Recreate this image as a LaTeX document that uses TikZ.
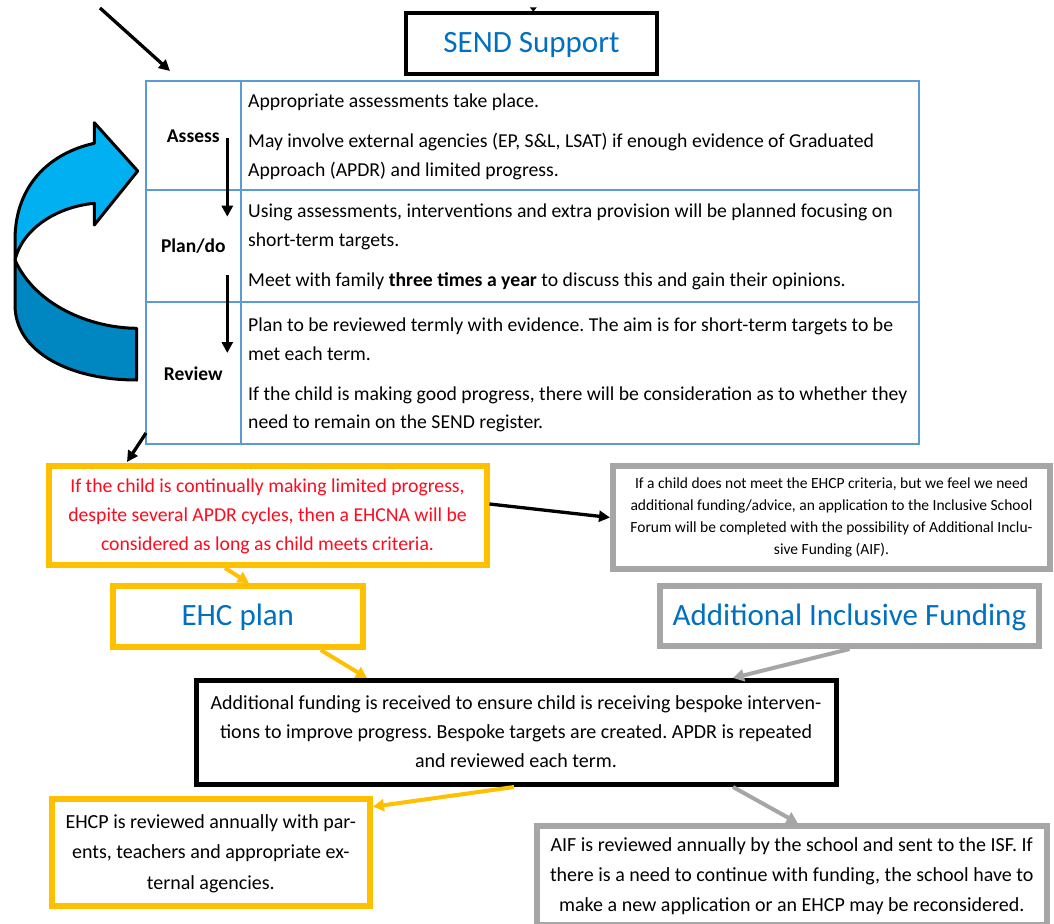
\documentclass[tikz,border=0pt]{standalone}
\usepackage{fontspec}
\setmainfont{Carlito}
\usetikzlibrary{arrows.meta,calc}
\definecolor{headblue}{RGB}{0,112,192}
\definecolor{tblblue}{RGB}{91,155,213}
\definecolor{ylw}{RGB}{255,192,0}
\definecolor{gry}{RGB}{166,166,166}
\definecolor{lightblue}{RGB}{0,176,240}
\definecolor{darkblue}{RGB}{0,134,192}
\definecolor{redtext}{RGB}{255,10,30}
\frenchspacing
\begin{document}
\begin{tikzpicture}[x=1pt,y=-1pt,
  box/.style={draw, inner sep=0pt, align=center, fill=white},
  ybox/.style={box, draw=ylw, line width=6pt},
  gbox/.style={box, draw=gry, line width=6pt},
  kbox/.style={box, draw=black, line width=5pt},
  body/.style={font=\fontsize{20pt}{29pt}\selectfont},
  small/.style={font=\fontsize{15.5pt}{22pt}\selectfont},
  head/.style={font=\fontsize{31pt}{37pt}\selectfont, text=headblue, text height=20pt, text depth=2pt},
  lab/.style={font=\fontsize{19.5pt}{24pt}\selectfont\bfseries, anchor=base, inner sep=0pt},
  cell/.style={font=\fontsize{19.7pt}{28.7pt}\selectfont, align=left, inner sep=0pt, anchor=north west},
  karr/.style={-{Triangle[length=11pt,width=11pt]}, line width=3.3pt, draw=black},
  yarr/.style={-{Triangle[length=11pt,width=12pt]}, line width=4pt, draw=ylw},
  garr/.style={-{Triangle[length=11pt,width=12pt]}, line width=4pt, draw=gry},
  tline/.style={draw=tblblue, line width=2pt},
  curv/.style={draw=black, line width=3pt, line join=round},
]
\fill[white] (0,0) rectangle (1054,923);
\useasboundingbox (0,0) rectangle (1054,923);

% curved blue arrow
\filldraw[curv, fill=lightblue] (15,260) -- (15,240) .. controls (15,185) and (50,153) .. (94.3,143.3)
  -- (94.3,122.7) -- (137.7,171) -- (94.3,225) -- (94.3,203.3)
  .. controls (55,207) and (22,230) .. (15,260) -- cycle;
\filldraw[curv, fill=darkblue] (15,260) -- (15,305) .. controls (15,352) and (70,380) .. (136.7,380)
  -- (136.7,328.3) .. controls (90,328) and (35,305) .. (15,260) -- cycle;

% heading
\node[kbox, line width=4pt, head, minimum width=251pt, minimum height=61.3pt] (send) at (531.5,43.3) {SEND Support};
\fill (529.8,7.3) -- (536.8,7.3) -- (533.3,11.7) -- cycle;

% table
\node[draw=tblblue, line width=2pt, inner sep=0pt, minimum width=773pt, minimum height=363pt] (tbl) at (532.5,262.5) {};
\draw[tline] (241,81) -- (241,444);
\draw[tline] (146,190) -- (919,190);
\draw[tline] (146,302) -- (919,302);

\node[lab] (assess) at (193.3,142.5) {Assess};
\node[lab] (plando) at (193.3,252.5) {Plan/do};
\node[lab] (review) at (193.3,380.5) {Review};

\node[cell] (c1) at (248,87.1) {\strut Appropriate assessments take place.\\[11.5pt]
May involve external agencies (EP, S\&L, LSAT) if enough evidence of Graduated\\
Approach (APDR) and limited progress.};
\node[cell] (c2) at (248,197.1) {\strut Using assessments, interventions and extra provision will be planned focusing on\\
short-term targets.\\[11.5pt]
Meet with family \textbf{three times a year} to discuss this and gain their opinions.};
\node[cell] (c3) at (248,311.1) {\strut Plan to be reviewed termly with evidence. The aim is for short-term targets to be\\
met each term.\\[11.5pt]
If the child is making good progress, there will be consideration as to whether they\\
need to remain on the SEND register.};

\draw[karr] (227.3,138) -- (227.3,216.7);
\draw[karr] (227.3,275) -- (227.3,353);

\coordinate (tlstart) at (100,8);
\coordinate (tlend) at (170,71);
\draw[karr] (tlstart) -- (tlend);
\coordinate (blend) at (127,462);
\draw[karr] ($(tbl.south west)+(1,-12)$) -- (blend);

% boxes
\node[ybox, font=\fontsize{19.7pt}{29pt}\selectfont, text=redtext, minimum width=438pt, minimum height=99pt] (red) at (267.5,515.5)
 {\strut If the child is continually making limited progress,\\
  despite several APDR cycles, then a EHCNA will be\\
  \strut considered as long as child meets criteria.};
\node[gbox, small, minimum width=437pt, minimum height=103pt] (gray1) at (831.5,517.5)
 {\strut If a child does not meet the EHCP criteria, but we feel we need\\
  additional funding/advice, an application to the Inclusive School\\
  Forum will be completed with the possibility of Additional Inclu-\\
  \strut sive Funding (AIF).};
\node[ybox, head, minimum width=249.6pt, minimum height=61pt] (ehc) at (237.8,616.5) {EHC plan};
\node[gbox, head, minimum width=379pt, minimum height=60pt] (aif) at (849.5,616) {Additional Inclusive Funding};
\node[kbox, body, minimum width=640pt, minimum height=104pt] (fund) at (516,732.5)
 {\strut Additional funding is received to ensure child is receiving bespoke interven-\\
  tions to improve progress. Bespoke targets are created. APDR is repeated\\
  \strut and reviewed each term.};
\node[ybox, font=\fontsize{20pt}{30.5pt}\selectfont, minimum width=318.5pt, minimum height=107pt] (ehcp) at (210.75,852.5)
 {\strut EHCP is reviewed annually with par-\\
  ents, teachers and appropriate ex-\\
  \strut ternal agencies.};
\node[gbox, font=\fontsize{20pt}{30pt}\selectfont, minimum width=510.5pt, minimum height=99pt] (aifrev) at (791.75,875.5)
 {\strut AIF is reviewed annually by the school and sent to the ISF. If\\
  there is a need to continue with funding, the school have to\\
  \strut make a new application or an EHCP may be reconsidered.};

% connectors
\draw[karr] ($(red.east)+(0,-11.5)$) -- (gray1.west);
\draw[yarr] ($(red.south)+(-42.5,0)$) -- ($(ehc.north)+(11,0)$);
\draw[yarr] ($(ehc.south)+(83,0)$) -- ($(fund.north)+(-149,0)$);
\draw[garr] (aif.south) -- ($(fund.north)+(217,0)$);
\draw[yarr] ($(fund.south)+(-2,0)$) -- ($(ehcp.east)+(0,-45.8)$);
\draw[garr] ($(fund.south)+(217,0)$) -- ($(aifrev.north)+(6,0)$);
\end{tikzpicture}
\end{document}
